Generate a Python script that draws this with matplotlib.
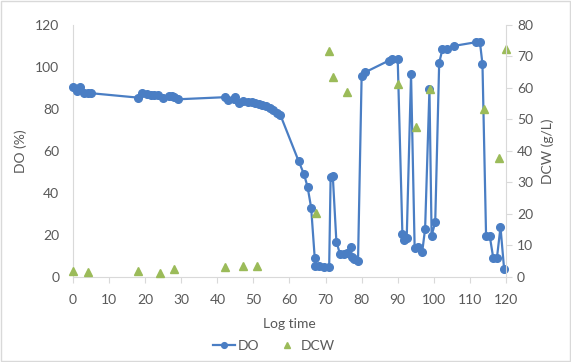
import matplotlib.pyplot as plt
from matplotlib.patches import Rectangle

# DO (%) readings over log time
do_time = [0, 1, 2, 3, 4, 5, 18, 19, 20.5, 21.5, 22.5, 23.5, 25, 26.5, 27.5, 28, 29,
           42, 43, 44.5, 45, 46, 47, 48.5, 49.5, 50.5, 51.5, 52.5, 53.5, 54.5, 55.5, 56.5, 57.5,
           62.5, 64, 65, 66, 67, 67.2, 68.3, 69.7, 71, 71.4, 72, 73, 74, 75, 76, 77, 77.3, 78, 79,
           80, 81, 87.5, 88.5, 90, 91.3, 91.8, 92.5, 93.7, 94.7, 95.7, 96.8, 97.6, 98.8, 99.4, 100.4,
           101.5, 102.4, 103.7, 105.5, 111.7, 112.8, 113.5, 114.5, 115.5, 116.5, 117.5, 118.5, 119.5]
do_vals = [90.5, 88.7, 90.3, 87.5, 87.5, 87.5, 85.4, 87.5, 87, 86.8, 86.5, 86.5, 85.4, 86, 86, 85.8, 84.6,
           85.6, 84.3, 84.7, 85.6, 83, 84, 83.5, 83.2, 83, 82.5, 82, 81.3, 80.5, 79.5, 78, 77,
           55.3, 49, 43, 33, 8.9, 5.3, 5.2, 4.5, 4.8, 47.5, 48.2, 16.8, 10.9, 11, 11.6, 14.3, 9.7, 8.6, 7.6,
           95.9, 97.5, 103, 104, 103.8, 20.5, 17.6, 18.7, 96.5, 13.7, 14.4, 12, 22.9, 89.4, 19.7, 26,
           102, 108.4, 108.4, 110, 111.8, 111.8, 101.4, 19.7, 19.7, 8.9, 8.9, 23.7, 3.8]

# DCW (g/L) samples
dcw_time = [0, 4, 18, 24, 28, 42, 47, 51, 67.3, 71, 72, 76, 90, 95, 99, 114, 118, 120]
dcw_vals = [2.0, 1.5, 1.9, 1.4, 2.4, 3.3, 3.5, 3.5, 20.4, 71.7, 63.6, 58.8, 61.3, 47.7, 59.6, 53.3, 37.7, 72.4]

plt.rcParams['font.family'] = ['Lato', 'DejaVu Sans']
grey = '#595959'
axis_grey = '#d9d9d9'

fig = plt.figure(figsize=(5.71, 3.62), dpi=100)
fig.patches.append(Rectangle((0.002, 0.004), 0.996, 0.992, transform=fig.transFigure,
                             fill=False, edgecolor='#d9d9d9', linewidth=1))
ax = fig.add_axes([0.128, 0.235, 0.758, 0.696])
ax2 = ax.twinx()

l1, = ax.plot(do_time, do_vals, color='#4a7ec4', linewidth=1.6, marker='o', markersize=5.5,
              label='DO', zorder=3, clip_on=False)
l2, = ax2.plot(dcw_time, dcw_vals, linestyle='none', marker='^', color='#9bbb59',
               markersize=6, label='DCW', clip_on=False)

ax.set_xlim(0, 120)
ax.set_ylim(0, 120)
ax2.set_ylim(0, 80)
ax.set_xticks(range(0, 121, 10))
ax.set_yticks(range(0, 121, 20))
ax2.set_yticks(range(0, 81, 10))

for a in (ax, ax2):
    for s in a.spines.values():
        s.set_visible(False)
ax.spines['bottom'].set_visible(True)
ax.spines['bottom'].set_color(axis_grey)
ax.spines['left'].set_visible(True)
ax.spines['left'].set_color(axis_grey)
ax2.spines['right'].set_visible(True)
ax2.spines['right'].set_color(axis_grey)

ax.tick_params(axis='x', colors=grey, labelsize=10, length=4, color=axis_grey, pad=8)
ax.tick_params(axis='y', colors=grey, labelsize=10, length=0, pad=10)
ax2.tick_params(axis='y', colors=grey, labelsize=10, length=4, color=axis_grey, pad=4)

ax.set_xlabel('Log time', color=grey, fontsize=10, labelpad=9)
ax.set_ylabel('DO (%)', color=grey, fontsize=10, labelpad=6)
ax2.set_ylabel('DCW (g/L)', color=grey, fontsize=10, labelpad=6)

fig.legend([l1, l2], ['DO', 'DCW'], loc='center', bbox_to_anchor=(0.48, 0.045), ncol=2,
           frameon=False, fontsize=10, labelcolor=grey, handlelength=1.6, markerscale=0.75,
           columnspacing=1.2, handletextpad=0.2)

fig.savefig('out.png', dpi=100)
